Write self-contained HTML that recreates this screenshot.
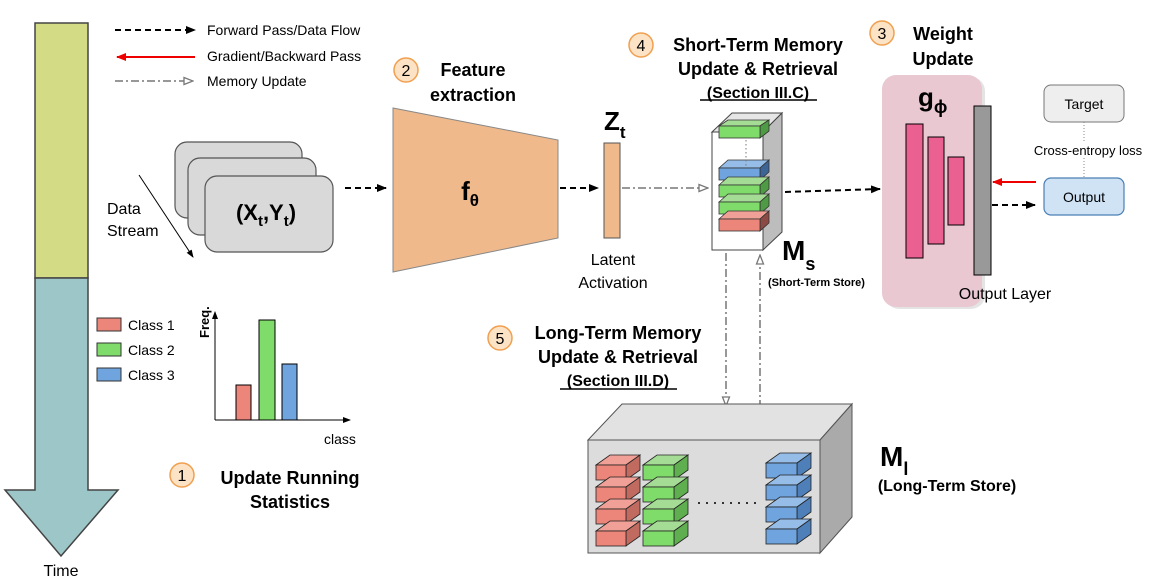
<!DOCTYPE html>
<html><head><meta charset="utf-8"><style>
body{margin:0;background:#fff}
svg{display:block;font-family:"Liberation Sans",sans-serif}
</style></head><body>
<svg width="1174" height="582" viewBox="0 0 1174 582" xmlns="http://www.w3.org/2000/svg">
<defs>
<marker id="ab" markerWidth="10" markerHeight="8" refX="9" refY="4" orient="auto" markerUnits="userSpaceOnUse"><path d="M0,0 L10,4 L0,8z" fill="#000"/></marker>
<marker id="ar" markerWidth="10" markerHeight="8" refX="9" refY="4" orient="auto" markerUnits="userSpaceOnUse"><path d="M0,0 L10,4 L0,8z" fill="#e00"/></marker>
<marker id="ag" markerWidth="11" markerHeight="9" refX="10" refY="4.5" orient="auto" markerUnits="userSpaceOnUse"><path d="M1,1 L10,4.5 L1,8z" fill="#fff" stroke="#777" stroke-width="1.3"/></marker>
<marker id="as" markerWidth="8" markerHeight="6" refX="7" refY="3" orient="auto" markerUnits="userSpaceOnUse"><path d="M0,0 L8,3 L0,6z" fill="#000"/></marker>
</defs>

<!-- Time arrow -->
<rect x="35" y="23" width="53" height="255" fill="#d3dc85" stroke="#444" stroke-width="1.5"/>
<path d="M35,278 L35,490 L5,490 L61,556 L118,490 L88,490 L88,278 Z" fill="#9dc6c8" stroke="#444" stroke-width="1.5"/>
<text x="61" y="576" font-size="16" text-anchor="middle">Time</text>

<!-- legend -->
<line x1="115" y1="30" x2="195" y2="30" stroke="#000" stroke-width="2" stroke-dasharray="6,4" marker-end="url(#ab)"/>
<text x="207" y="35" font-size="14">Forward Pass/Data Flow</text>
<line x1="195" y1="57" x2="117" y2="57" stroke="#e00" stroke-width="2" marker-end="url(#ar)"/>
<text x="207" y="61" font-size="14">Gradient/Backward Pass</text>
<line x1="115" y1="81" x2="193" y2="81" stroke="#777" stroke-width="1.5" stroke-dasharray="8,3,2,3" marker-end="url(#ag)"/>
<text x="207" y="86" font-size="14">Memory Update</text>

<!-- data stream cards -->
<rect x="175" y="142" width="127" height="76" rx="12" fill="#d9d9d9" stroke="#555" stroke-width="1.2"/>
<rect x="188" y="158" width="128" height="77" rx="12" fill="#d9d9d9" stroke="#555" stroke-width="1.2"/>
<rect x="205" y="176" width="128" height="76" rx="12" fill="#d9d9d9" stroke="#555" stroke-width="1.2"/>
<text x="266" y="220" font-size="22" font-weight="bold" text-anchor="middle">(X<tspan font-size="15" dy="6">t</tspan><tspan dy="-6">,Y</tspan><tspan font-size="15" dy="6">t</tspan><tspan dy="-6">)</tspan></text>
<line x1="139" y1="175" x2="193" y2="257" stroke="#000" stroke-width="1" marker-end="url(#as)"/>
<text x="107" y="214" font-size="16">Data</text>
<text x="107" y="236" font-size="16">Stream</text>

<line x1="345" y1="188" x2="386" y2="188" stroke="#000" stroke-width="2" stroke-dasharray="6,4" marker-end="url(#ab)"/>

<!-- f theta -->
<path d="M393,108 L558,140 L558,238 L393,272 Z" fill="#efb98c" stroke="#888" stroke-width="1"/>
<text x="470" y="200" font-size="26" font-weight="bold" text-anchor="middle">f<tspan font-size="17" dy="6">θ</tspan></text>
<line x1="560" y1="188" x2="598" y2="188" stroke="#000" stroke-width="2" stroke-dasharray="6,4" marker-end="url(#ab)"/>

<!-- Zt -->
<rect x="604" y="143" width="16" height="95" fill="#efb98c" stroke="#555" stroke-width="1"/>
<text x="604" y="130" font-size="26" font-weight="bold">Z<tspan font-size="17" dy="8">t</tspan></text>
<text x="613" y="265" font-size="16" text-anchor="middle">Latent</text>
<text x="613" y="288" font-size="16" text-anchor="middle">Activation</text>
<line x1="622" y1="188" x2="708" y2="188" stroke="#777" stroke-width="1.5" stroke-dasharray="8,3,2,3" marker-end="url(#ag)"/>

<!-- Ms -->
<path d="M712,132 L732,113 L782,113 L763,132 Z" fill="#e6e6e6" stroke="#444"/>
<path d="M763,132 L782,113 L782,232 L763,250 Z" fill="#bdbdbd" stroke="#444"/>
<rect x="712" y="132" width="51" height="118" fill="#fff" stroke="#444"/>
<g stroke="#333" stroke-width="0.8">
<path d="M719,126 L728,120 L769,120 L760,126Z" fill="#a5dc95"/><path d="M760,126 L769,120 L769,131 L760,138Z" fill="#4f9a45"/><rect x="719" y="126" width="41" height="12" fill="#7fdc6a"/>
<path d="M719,168 L728,160 L769,160 L760,168Z" fill="#95bde8"/><path d="M760,168 L769,160 L769,172 L760,180Z" fill="#3c6494"/><rect x="719" y="168" width="41" height="12" fill="#6fa4de"/>
<path d="M719,185 L728,177 L769,177 L760,185Z" fill="#a5dc95"/><path d="M760,185 L769,177 L769,189 L760,197Z" fill="#4f9a45"/><rect x="719" y="185" width="41" height="12" fill="#7fdc6a"/>
<path d="M719,202 L728,194 L769,194 L760,202Z" fill="#a5dc95"/><path d="M760,202 L769,194 L769,206 L760,214Z" fill="#4f9a45"/><rect x="719" y="202" width="41" height="12" fill="#7fdc6a"/>
<path d="M719,219 L728,211 L769,211 L760,219Z" fill="#f0a096"/><path d="M760,219 L769,211 L769,223 L760,231Z" fill="#8c4a44"/><rect x="719" y="219" width="41" height="12" fill="#ec857a"/>
</g>
<line x1="746" y1="140" x2="746" y2="166" stroke="#777" stroke-dasharray="1.5,2.5"/>
<text x="782" y="260" font-size="28" font-weight="bold">M<tspan font-size="18" dy="10">s</tspan></text>
<text x="768" y="286" font-size="11" font-weight="bold">(Short-Term Store)</text>
<line x1="785" y1="192" x2="880" y2="189" stroke="#000" stroke-width="2" stroke-dasharray="6,4" marker-end="url(#ab)"/>

<!-- g phi -->
<rect x="885" y="77" width="100" height="232" rx="14" fill="#bbb" opacity="0.4"/>
<rect x="882" y="75" width="100" height="232" rx="14" fill="#e9c8d2"/>
<text x="918" y="106" font-size="26" font-weight="bold">g<tspan font-size="18" dy="7">ϕ</tspan></text>
<rect x="906" y="124" width="17" height="134" fill="#ea6090" stroke="#000"/>
<rect x="928" y="137" width="16" height="107" fill="#ea6090" stroke="#000"/>
<rect x="948" y="157" width="16" height="68" fill="#ea6090" stroke="#000"/>
<rect x="974" y="106" width="17" height="169" fill="#999" stroke="#000"/>
<text x="1005" y="299" font-size="16" text-anchor="middle">Output Layer</text>
<rect x="1044" y="85" width="80" height="37" rx="7" fill="#eee" stroke="#777"/>
<text x="1084" y="109" font-size="14" text-anchor="middle">Target</text>
<line x1="1084" y1="122" x2="1084" y2="178" stroke="#888" stroke-dasharray="1,2"/>
<rect x="1030" y="142" width="120" height="16" fill="#fff"/>
<text x="1088" y="155" font-size="13" text-anchor="middle">Cross-entropy loss</text>
<rect x="1044" y="178" width="80" height="37" rx="7" fill="#cfe3f5" stroke="#4a7fb5" stroke-width="1.2"/>
<text x="1084" y="202" font-size="14" text-anchor="middle">Output</text>
<line x1="1036" y1="182" x2="993" y2="182" stroke="#e00" stroke-width="2" marker-end="url(#ar)"/>
<line x1="992" y1="205" x2="1035" y2="205" stroke="#000" stroke-width="2" stroke-dasharray="6,4" marker-end="url(#ab)"/>

<!-- headings -->
<g font-weight="bold" font-size="18" text-anchor="middle">
<circle cx="406" cy="70" r="12" fill="#fde3c6" stroke="#f0a050" stroke-width="1.5"/><text x="406" y="76" font-size="16" font-weight="normal">2</text>
<text x="473" y="76">Feature</text><text x="473" y="101">extraction</text>
<circle cx="641" cy="45" r="12" fill="#fde3c6" stroke="#f0a050" stroke-width="1.5"/><text x="641" y="51" font-size="16" font-weight="normal">4</text>
<text x="758" y="51">Short-Term Memory</text><text x="758" y="75">Update &amp; Retrieval</text><text x="758" y="98" font-size="16">(Section III.C)</text>
<line x1="700" y1="100" x2="817" y2="100" stroke="#000" stroke-width="1.5"/>
<circle cx="882" cy="33" r="12" fill="#fde3c6" stroke="#f0a050" stroke-width="1.5"/><text x="882" y="39" font-size="16" font-weight="normal">3</text>
<text x="943" y="40">Weight</text><text x="943" y="65">Update</text>
<circle cx="500" cy="338" r="12" fill="#fde3c6" stroke="#f0a050" stroke-width="1.5"/><text x="500" y="344" font-size="16" font-weight="normal">5</text>
<text x="618" y="339">Long-Term Memory</text><text x="618" y="363">Update &amp; Retrieval</text><text x="618" y="386" font-size="16">(Section III.D)</text>
<line x1="560" y1="389" x2="677" y2="389" stroke="#000" stroke-width="1.5"/>
<circle cx="182" cy="475" r="12" fill="#fde3c6" stroke="#f0a050" stroke-width="1.5"/><text x="182" y="481" font-size="16" font-weight="normal">1</text>
<text x="290" y="484">Update Running</text><text x="290" y="508">Statistics</text>
</g>

<!-- histogram -->
<rect x="97" y="318" width="24" height="13" fill="#ec857a" stroke="#333"/><text x="128" y="330" font-size="14">Class 1</text>
<rect x="97" y="343" width="24" height="13" fill="#7fdc6a" stroke="#333"/><text x="128" y="355" font-size="14">Class 2</text>
<rect x="97" y="368" width="24" height="13" fill="#6fa4de" stroke="#333"/><text x="128" y="380" font-size="14">Class 3</text>
<line x1="215" y1="420" x2="215" y2="312" stroke="#000" marker-end="url(#as)"/>
<line x1="215" y1="420" x2="350" y2="420" stroke="#000" marker-end="url(#as)"/>
<rect x="236" y="385" width="15" height="35" fill="#ec857a" stroke="#000"/>
<rect x="259" y="320" width="16" height="100" fill="#7fdc6a" stroke="#000"/>
<rect x="282" y="364" width="15" height="56" fill="#6fa4de" stroke="#000"/>
<text transform="translate(209,338) rotate(-90)" font-size="13" font-weight="bold">Freq.</text>
<text x="324" y="444" font-size="14">class</text>

<!-- vertical links -->
<line x1="726" y1="253" x2="726" y2="406" stroke="#777" stroke-width="1.5" stroke-dasharray="8,3,2,3" marker-end="url(#ag)"/>
<line x1="760" y1="408" x2="760" y2="255" stroke="#777" stroke-width="1.5" stroke-dasharray="8,3,2,3" marker-end="url(#ag)"/>

<!-- long-term -->
<path d="M588,440 L622,404 L852,404 L820,440 Z" fill="#e2e2e2" stroke="#555"/>
<path d="M820,440 L852,404 L852,517 L820,553 Z" fill="#aaa" stroke="#555"/>
<rect x="588" y="440" width="232" height="113" fill="#dcdcdc" stroke="#555"/>
<g stroke="#222" stroke-width="0.8">
<path d="M596,465 L610,455 L640,455 L626,465Z" fill="#f0a096"/><path d="M626,465 L640,455 L640,470 L626,480Z" fill="#c06a60"/><rect x="596" y="465" width="30" height="15" fill="#ec857a"/>
<path d="M596,487 L610,477 L640,477 L626,487Z" fill="#f0a096"/><path d="M626,487 L640,477 L640,492 L626,502Z" fill="#c06a60"/><rect x="596" y="487" width="30" height="15" fill="#ec857a"/>
<path d="M596,509 L610,499 L640,499 L626,509Z" fill="#f0a096"/><path d="M626,509 L640,499 L640,514 L626,524Z" fill="#c06a60"/><rect x="596" y="509" width="30" height="15" fill="#ec857a"/>
<path d="M596,531 L610,521 L640,521 L626,531Z" fill="#f0a096"/><path d="M626,531 L640,521 L640,536 L626,546Z" fill="#c06a60"/><rect x="596" y="531" width="30" height="15" fill="#ec857a"/>
<path d="M643,465 L657,455 L688,455 L674,465Z" fill="#a5dc95"/><path d="M674,465 L688,455 L688,470 L674,480Z" fill="#5fae50"/><rect x="643" y="465" width="31" height="15" fill="#7fdc6a"/>
<path d="M643,487 L657,477 L688,477 L674,487Z" fill="#a5dc95"/><path d="M674,487 L688,477 L688,492 L674,502Z" fill="#5fae50"/><rect x="643" y="487" width="31" height="15" fill="#7fdc6a"/>
<path d="M643,509 L657,499 L688,499 L674,509Z" fill="#a5dc95"/><path d="M674,509 L688,499 L688,514 L674,524Z" fill="#5fae50"/><rect x="643" y="509" width="31" height="15" fill="#7fdc6a"/>
<path d="M643,531 L657,521 L688,521 L674,531Z" fill="#a5dc95"/><path d="M674,531 L688,521 L688,536 L674,546Z" fill="#5fae50"/><rect x="643" y="531" width="31" height="15" fill="#7fdc6a"/>
<path d="M766,463 L780,453 L811,453 L797,463Z" fill="#95bde8"/><path d="M797,463 L811,453 L811,468 L797,478Z" fill="#4f7fb8"/><rect x="766" y="463" width="31" height="15" fill="#6fa4de"/>
<path d="M766,485 L780,475 L811,475 L797,485Z" fill="#95bde8"/><path d="M797,485 L811,475 L811,490 L797,500Z" fill="#4f7fb8"/><rect x="766" y="485" width="31" height="15" fill="#6fa4de"/>
<path d="M766,507 L780,497 L811,497 L797,507Z" fill="#95bde8"/><path d="M797,507 L811,497 L811,512 L797,522Z" fill="#4f7fb8"/><rect x="766" y="507" width="31" height="15" fill="#6fa4de"/>
<path d="M766,529 L780,519 L811,519 L797,529Z" fill="#95bde8"/><path d="M797,529 L811,519 L811,534 L797,544Z" fill="#4f7fb8"/><rect x="766" y="529" width="31" height="15" fill="#6fa4de"/>
</g>
<line x1="698" y1="503" x2="758" y2="503" stroke="#333" stroke-width="2" stroke-dasharray="2,6"/>
<text x="880" y="466" font-size="28" font-weight="bold">M<tspan font-size="18" dy="9">l</tspan></text>
<text x="947" y="491" font-size="16" font-weight="bold" text-anchor="middle">(Long-Term Store)</text>
</svg>
</body></html>
